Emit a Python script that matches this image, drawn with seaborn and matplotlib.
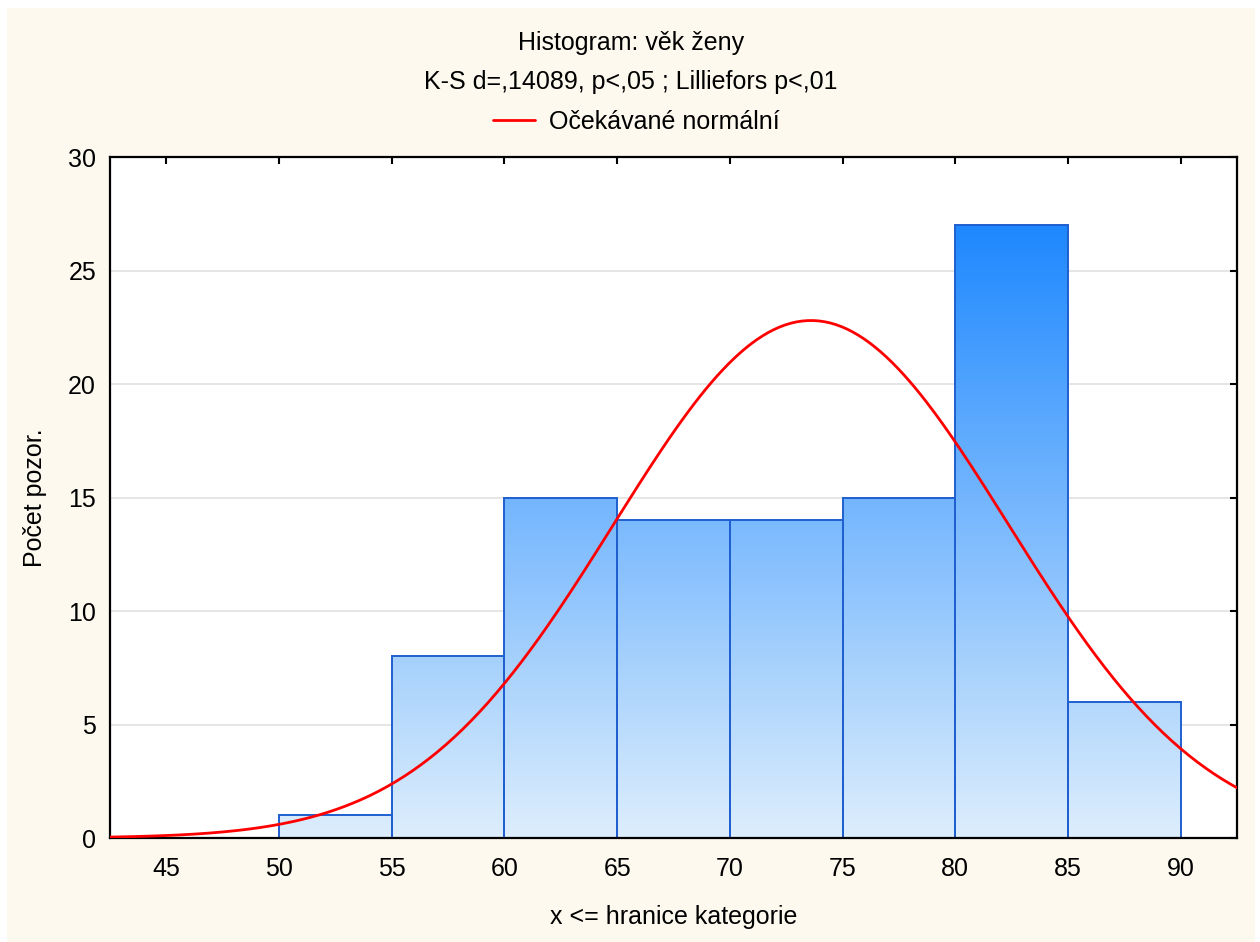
import numpy as np
import pandas as pd
import matplotlib
matplotlib.use("Agg")
import matplotlib.pyplot as plt
from matplotlib.patches import Rectangle
from matplotlib.colors import LinearSegmentedColormap
from matplotlib.lines import Line2D
import seaborn as sns

# ---- data ----
bin_edges = [45, 50, 55, 60, 65, 70, 75, 80, 85, 90]
counts = [0, 1, 8, 15, 14, 14, 15, 27, 6]
fit_mean = 73.6
fit_sd = 8.75
n_total = 100
y_ticks = [0, 5, 10, 15, 20, 25, 30]
x_ticks = [45, 50, 55, 60, 65, 70, 75, 80, 85, 90]
title1 = "Histogram: věk ženy"
title2 = "K-S d=,14089, p<,05 ; Lilliefors p<,01"
legend_label = "Očekávané normální"
xlabel = "x <= hranice kategorie"
ylabel = "Počet pozor."

sns.set_theme(style="white")
plt.rcParams['font.family'] = ['Liberation Sans', 'DejaVu Sans']
FS = 18
plt.rcParams['font.size'] = FS

W, H = 1260, 942
fig = plt.figure(figsize=(W / 100, H / 100), dpi=100)
fig.patch.set_facecolor("white")
fig.add_artist(Rectangle((7 / W, 0), (1255 - 7) / W, (H - 8) / H,
                         transform=fig.transFigure, facecolor="#FDF9EF",
                         edgecolor="none", zorder=-10))

ax = fig.add_axes([110 / W, 1 - 838 / H, (1237 - 110) / W, (838 - 157) / H])
ax.set_facecolor("white")

centers = [(a + b) / 2 for a, b in zip(bin_edges[:-1], bin_edges[1:])]
df = pd.DataFrame({"x": centers, "w": counts})
sns.histplot(data=df, x="x", weights="w", bins=bin_edges, ax=ax,
             stat="count", fill=True, facecolor="none",
             edgecolor="#1F5FD0", linewidth=1.4, alpha=1, zorder=3)

xlim = (42.5, 92.5)
ylim = (0, 30)

# gradient fill clipped to each bar
cmap = LinearSegmentedColormap.from_list("g", ["#DDEEFC", "#1E88FF"])
grad = np.linspace(0, 1, 256).reshape(-1, 1)
for p in list(ax.patches):
    p.set_facecolor("none")
    p.set_clip_on(False)
    im = ax.imshow(grad, extent=[xlim[0], xlim[1], 0, 27], origin="lower",
                   cmap=cmap, aspect="auto", zorder=2, interpolation="bilinear")
    im.set_clip_path(p)

# expected normal curve
xs = np.linspace(xlim[0], xlim[1], 400)
binw = bin_edges[1] - bin_edges[0]
ys = n_total * binw / (fit_sd * np.sqrt(2 * np.pi)) * np.exp(-0.5 * ((xs - fit_mean) / fit_sd) ** 2)
sns.lineplot(x=xs, y=ys, ax=ax, color="#FF0000", linewidth=2.0, zorder=6)

ax.set_xlim(*xlim)
ax.set_ylim(*ylim)
ax.set_xticks(x_ticks)
ax.set_yticks(y_ticks)
ax.yaxis.grid(True, color="#E0E0E0", linewidth=1.2, zorder=0)
ax.xaxis.grid(False)
ax.set_axisbelow(True)
for s in ax.spines.values():
    s.set_visible(True)
    s.set_color("black")
    s.set_linewidth(1.6)
    s.set_zorder(5)
ax.tick_params(axis="both", direction="in", top=True, right=True, length=5,
               width=1.5, color="black", labelsize=FS, labelcolor="black")
ax.tick_params(axis="x", pad=14)
ax.tick_params(axis="y", pad=10)

ax.set_xlabel(xlabel, fontsize=FS, color="black")
ax.set_ylabel(ylabel, fontsize=FS, color="black")
ax.xaxis.set_label_coords(0.5, (838 - 917) / (838 - 157))
ax.xaxis.label.set_va("center")
ax.yaxis.set_label_coords((35 - 110) / (1237 - 110), 0.5)
ax.yaxis.label.set_va("center")

fig.text(631 / W, 1 - 43 / H, title1, ha="center", va="center", fontsize=FS, color="black")
fig.text(631 / W, 1 - 82 / H, title2, ha="center", va="center", fontsize=FS, color="black")
handle = Line2D([], [], color="#FF0000", linewidth=2.0)
fig.legend([handle], [legend_label], loc="center", bbox_to_anchor=(636 / W, 1 - 122 / H),
           frameon=False, fontsize=FS, handlelength=1.7, handletextpad=0.55,
           borderpad=0, borderaxespad=0, labelcolor="black")

fig.savefig("out.png", dpi=100, facecolor=fig.get_facecolor())
